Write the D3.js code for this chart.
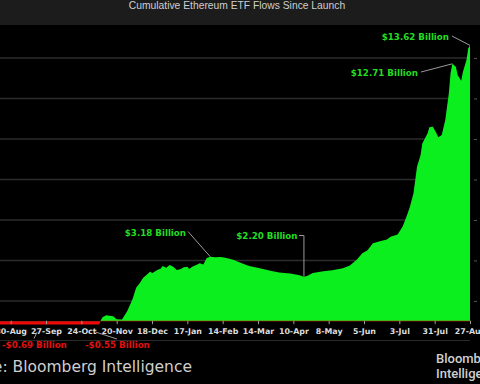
<!DOCTYPE html>
<html>
<head>
<meta charset="utf-8">
<script src="https://cdn.jsdelivr.net/npm/d3@7"></script>
<style>
body { margin: 0; background: #000; }
svg { display: block; }
</style>
</head>
<body>
<script>
"use strict";

//trading days counted from 30-Aug-2024 (launch is day -27), cumulative net flows in $ billion
const tradingDay = [-27, -25, -22, -18, -12, -6, 0, 6, 11, 15, 20, 26, 32, 38, 43, 48, 50,
	51, 52, 54, 58, 60, 63, 66, 69, 71, 73, 75, 77, 79, 80, 83, 85, 86, 88, 90, 92, 94, 96, 98,
	100, 101, 103, 105, 107, 109, 111, 113, 116, 119, 122, 126, 130, 135, 141, 147, 152, 158,
	163, 166, 168, 171, 177, 182, 188, 192, 196, 199, 202, 205, 209, 213, 215, 219, 220, 222,
	224, 226, 228, 229, 230, 232, 233, 236, 237, 239, 241, 242, 244, 246, 248, 249, 250, 252,
	253, 255, 256, 258, 259, 260];
const flowBn = [0.11, -0.2, -0.42, -0.45, -0.5, -0.52, -0.55, -0.62, -0.66, -0.69, -0.62, -0.56, -0.5, -0.47, -0.5, -0.55, -0.2,
	0.05, 0.2, 0.3, 0.25, 0.1, 0.08, 0.5, 1.1, 1.65, 1.87, 2.15, 2.3, 2.45, 2.37, 2.53, 2.6, 2.72, 2.64, 2.78, 2.69, 2.53, 2.56, 2.66,
	2.69, 2.58, 2.7, 2.78, 2.86, 2.8, 3.12, 3.18, 3.16, 3.17, 3.12, 3.03, 2.89, 2.73, 2.61, 2.49, 2.41, 2.36,
	2.28, 2.20, 2.25, 2.38, 2.47, 2.52, 2.62, 2.75, 3.05, 3.35, 3.5, 3.85, 3.95, 4.04, 4.17, 4.28, 4.42, 4.7,
	5.16, 5.65, 6.32, 6.97, 7.63, 8.2, 8.78, 9.28, 9.58, 9.6, 9.28, 9.08, 9.2, 9.94, 11.25, 12.24, 12.71, 12.57,
	12.16, 11.88, 12.32, 12.9, 13.48, 13.62];

//x axis: one tick every 20 trading days
const tickLabels = ["30-Aug", "27-Sep", "24-Oct", "20-Nov", "18-Dec", "17-Jan", "14-Feb",
	"14-Mar", "10-Apr", "8-May", "5-Jun", "3-Jul", "31-Jul", "27-Aug"];
const tickStep = 20;
const gridValues = [1, 3, 5, 7, 9, 11, 13];

//call-outs
const calloutText = ["$13.62 Billion", "$12.71 Billion", "$3.18 Billion", "$2.20 Billion", "-$0.69 Billion", "-$0.55 Billion"];
const calloutDay = [260, 250, 113, 166, 15, 48];
const calloutValue = [13.62, 12.71, 3.18, 2.20, -0.69, -0.55];

const width = 480, height = 384;
const plotBottom = 324.5, plotRight = 470;
const green = "#0bef1e", red = "#ee0a0a";

let svg = d3.select("body").append("svg")
	.attr("width", width)
	.attr("height", height);

//backgrounds
svg.append("rect").attr("width", width).attr("height", height).attr("fill", "#000");
svg.append("rect").attr("width", width).attr("height", 25).attr("fill", "#1c1c1c");
svg.append("text")
	.attr("x", 237).attr("y", 5).attr("dy", "0.35em")
	.attr("text-anchor", "middle")
	.attr("font-family", "Liberation Sans, Arial, sans-serif")
	.attr("font-size", 10.3)
	.attr("fill", "#cfcfcf")
	.text("Cumulative Ethereum ETF Flows Since Launch");

let x = d3.scaleLinear().domain([-27, 260]).range([-37, plotRight]);
let y = d3.scaleLinear().domain([0, 13]).range([321.2, 57.95]);

let data = tradingDay.map(function(d, i) { return [d, flowBn[i]]; });

//grid lines
svg.append("g")
	.selectAll("line")
	.data(gridValues)
	.join("line")
	.attr("x1", 0).attr("x2", plotRight)
	.attr("y1", function(d) { return y(d); })
	.attr("y2", function(d) { return y(d); })
	.attr("stroke", "#2c2c2c")
	.attr("stroke-width", 1.5);

//right axis, labels fall outside the picture
let yAxis = svg.append("g")
	.attr("transform", "translate(" + (plotRight + 4) + ",0)")
	.call(d3.axisRight(y).tickValues(gridValues).tickSize(3).tickFormat(""));
yAxis.select(".domain").remove();
yAxis.selectAll("line").attr("stroke", "#555");

//area split into positive (green) and negative (red) parts
let defs = svg.append("defs");
defs.append("clipPath").attr("id", "pos")
	.append("rect").attr("x", 0).attr("y", 0).attr("width", plotRight).attr("height", y(0));
defs.append("clipPath").attr("id", "neg")
	.append("rect").attr("x", 0).attr("y", y(0) - 0.5).attr("width", plotRight).attr("height", plotBottom - y(0) + 0.5);

let area = d3.area()
	.x(function(d) { return x(d[0]); })
	.y0(y(0))
	.y1(function(d) { return y(d[1]); });

svg.append("path")
	.attr("clip-path", "url(#pos)")
	.attr("fill", green)
	.attr("d", area(data));
svg.append("path")
	.attr("clip-path", "url(#neg)")
	.attr("fill", red)
	.attr("d", area(data));

//x axis
let xAxis = svg.append("g")
	.attr("transform", "translate(0," + (y(0) - 0.5) + ")")
	.call(d3.axisBottom(x)
		.tickValues(tickLabels.map(function(d, i) { return i * tickStep; }))
		.tickSize(3.5)
		.tickPadding(4.5)
		.tickFormat(function(d, i) { return tickLabels[i]; }));
xAxis.select(".domain").remove();
xAxis.selectAll("line").attr("stroke", "#9a9a9a");
xAxis.selectAll("text")
	.attr("font-family", "DejaVu Sans, sans-serif")
	.attr("font-weight", "bold")
	.attr("font-size", 7.9)
	.attr("fill", "#dcdcdc");

svg.append("line")
	.attr("x1", 0).attr("x2", plotRight)
	.attr("y1", 340.5).attr("y2", 340.5)
	.attr("stroke", "#2a2a2a");

//call-outs: label position and leader route
let calloutLayout = [
	{lx: 449, ly: 37, anchor: "end", path: function(p) { return [[452, 36], p]; }},
	{lx: 418, ly: 72.5, anchor: "end", path: function(p) { return [[421, 72], p]; }},
	{lx: 186, ly: 232.5, anchor: "end", path: function(p) { return [[188, 231.5], p]; }},
	{lx: 297.5, ly: 235.5, anchor: "end", path: function(p) { return [[299, 235.5], [p[0], 235.5], p]; }},
	{lx: 2, ly: 344.5, anchor: "start", path: function(p) { return [[34, 338.5], p]; }},
	{lx: 85, ly: 344.5, anchor: "start", path: function(p) { return [p, [117, 339]]; }}
];

let line = d3.line();
let callouts = svg.append("g");
calloutText.forEach(function(t, i)
{
	let l = calloutLayout[i];
	let p = [x(calloutDay[i]), Math.min(y(calloutValue[i]), 332)];
	callouts.append("path")
		.attr("d", line(l.path(p)))
		.attr("fill", "none")
		.attr("stroke", "#9a9a9a")
		.attr("stroke-width", 1);
	callouts.append("text")
		.attr("x", l.lx).attr("y", l.ly).attr("dy", "0.35em")
		.attr("text-anchor", l.anchor)
		.attr("font-family", "DejaVu Sans, sans-serif")
		.attr("font-weight", "bold")
		.attr("font-size", 8.7)
		.attr("fill", calloutValue[i] < 0 ? "#e01010" : "#22dd22")
		.text(t);
});

//footer
svg.append("text")
	.attr("x", 192).attr("y", 367).attr("dy", "0.35em")
	.attr("text-anchor", "end")
	.attr("font-family", "DejaVu Sans, sans-serif")
	.attr("font-size", 15.5)
	.attr("fill", "#cfcfcf")
	.text("Source: Bloomberg Intelligence");
svg.append("text")
	.attr("x", 436).attr("y", 358).attr("dy", "0.35em")
	.attr("font-family", "Roboto, sans-serif")
	.attr("font-weight", 500)
	.attr("font-size", 13)
	.attr("fill", "#cfcfcf")
	.text("Bloomberg");
svg.append("text")
	.attr("x", 436).attr("y", 373).attr("dy", "0.35em")
	.attr("font-family", "Roboto, sans-serif")
	.attr("font-weight", 500)
	.attr("font-size", 13)
	.attr("fill", "#cfcfcf")
	.text("Intelligence");
</script>
</body>
</html>
